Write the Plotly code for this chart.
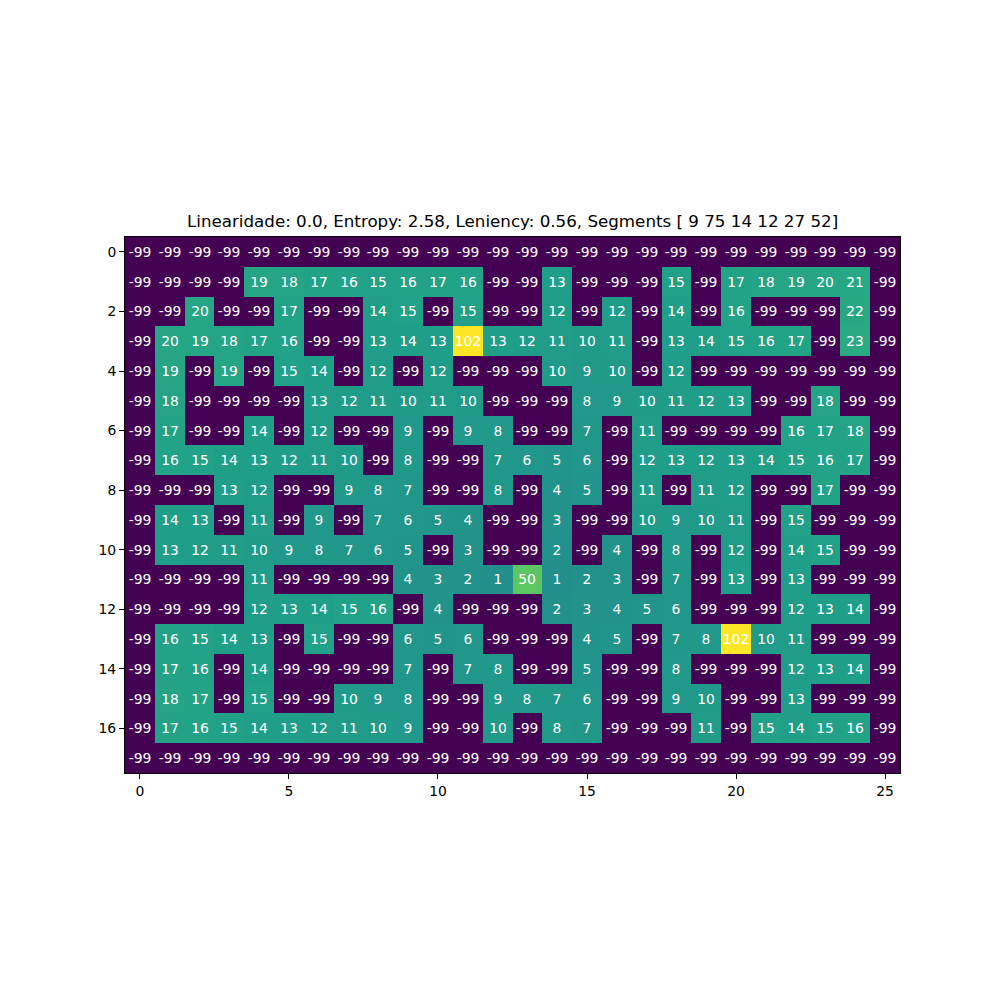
import plotly.graph_objects as go

title_text = "Linearidade: 0.0, Entropy: 2.58, Leniency: 0.56, Segments [ 9 75 14 12 27 52]"

row_00 = [-99] * 26
row_01 = [-99, -99, -99, -99, 19, 18, 17, 16, 15, 16, 17, 16, -99, -99, 13, -99, -99, -99, 15, -99, 17, 18, 19, 20, 21, -99]
row_02 = [-99, -99, 20, -99, -99, 17, -99, -99, 14, 15, -99, 15, -99, -99, 12, -99, 12, -99, 14, -99, 16, -99, -99, -99, 22, -99]
row_03 = [-99, 20, 19, 18, 17, 16, -99, -99, 13, 14, 13, 102, 13, 12, 11, 10, 11, -99, 13, 14, 15, 16, 17, -99, 23, -99]
row_04 = [-99, 19, -99, 19, -99, 15, 14, -99, 12, -99, 12, -99, -99, -99, 10, 9, 10, -99, 12, -99, -99, -99, -99, -99, -99, -99]
row_05 = [-99, 18, -99, -99, -99, -99, 13, 12, 11, 10, 11, 10, -99, -99, -99, 8, 9, 10, 11, 12, 13, -99, -99, 18, -99, -99]
row_06 = [-99, 17, -99, -99, 14, -99, 12, -99, -99, 9, -99, 9, 8, -99, -99, 7, -99, 11, -99, -99, -99, -99, 16, 17, 18, -99]
row_07 = [-99, 16, 15, 14, 13, 12, 11, 10, -99, 8, -99, -99, 7, 6, 5, 6, -99, 12, 13, 12, 13, 14, 15, 16, 17, -99]
row_08 = [-99, -99, -99, 13, 12, -99, -99, 9, 8, 7, -99, -99, 8, -99, 4, 5, -99, 11, -99, 11, 12, -99, -99, 17, -99, -99]
row_09 = [-99, 14, 13, -99, 11, -99, 9, -99, 7, 6, 5, 4, -99, -99, 3, -99, -99, 10, 9, 10, 11, -99, 15, -99, -99, -99]
row_10 = [-99, 13, 12, 11, 10, 9, 8, 7, 6, 5, -99, 3, -99, -99, 2, -99, 4, -99, 8, -99, 12, -99, 14, 15, -99, -99]
row_11 = [-99, -99, -99, -99, 11, -99, -99, -99, -99, 4, 3, 2, 1, 50, 1, 2, 3, -99, 7, -99, 13, -99, 13, -99, -99, -99]
row_12 = [-99, -99, -99, -99, 12, 13, 14, 15, 16, -99, 4, -99, -99, -99, 2, 3, 4, 5, 6, -99, -99, -99, 12, 13, 14, -99]
row_13 = [-99, 16, 15, 14, 13, -99, 15, -99, -99, 6, 5, 6, -99, -99, -99, 4, 5, -99, 7, 8, 102, 10, 11, -99, -99, -99]
row_14 = [-99, 17, 16, -99, 14, -99, -99, -99, -99, 7, -99, 7, 8, -99, -99, 5, -99, -99, 8, -99, -99, -99, 12, 13, 14, -99]
row_15 = [-99, 18, 17, -99, 15, -99, -99, 10, 9, 8, -99, -99, 9, 8, 7, 6, -99, -99, 9, 10, -99, -99, 13, -99, -99, -99]
row_16 = [-99, 17, 16, 15, 14, 13, 12, 11, 10, 9, -99, -99, 10, -99, 8, 7, -99, -99, -99, 11, -99, 15, 14, 15, 16, -99]
row_17 = [-99] * 26

grid = [row_00, row_01, row_02, row_03, row_04, row_05, row_06, row_07, row_08,
        row_09, row_10, row_11, row_12, row_13, row_14, row_15, row_16, row_17]

x_ticks = [0, 5, 10, 15, 20, 25]
y_ticks = [0, 2, 4, 6, 8, 10, 12, 14, 16]

# cell labels with ASCII hyphen-minus, as in the reference
cell_text = [[str(v) for v in row] for row in grid]

fig = go.Figure(go.Heatmap(
    z=grid,
    x=list(range(26)),
    y=list(range(18)),
    text=cell_text,
    colorscale="Viridis",
    zmin=-99, zmax=102,
    showscale=False,
    texttemplate="%{text}",
    textfont=dict(family="DejaVu Sans", size=13.9, color="white"),
    hoverinfo="skip",
))

axis_common = dict(ticks="outside", ticklen=5, tickcolor="black", showline=True,
                   linecolor="black", linewidth=1, mirror=True, showgrid=False,
                   zeroline=False,
                   tickfont=dict(family="DejaVu Sans", size=13.9, color="black"))
fig.update_xaxes(range=[-0.5, 25.5], tickvals=x_ticks, **axis_common)
fig.update_yaxes(range=[17.5, -0.5], tickvals=y_ticks, **axis_common)

fig.add_annotation(text=title_text, xref="paper", yref="paper", x=0.5, y=1,
                   xanchor="center", yanchor="bottom", yshift=4, showarrow=False,
                   font=dict(family="DejaVu Sans", size=16.7, color="black"))

fig.update_layout(width=1000, height=1000, margin=dict(l=125, r=100, t=237, b=227),
                  plot_bgcolor="white", paper_bgcolor="white",
                  font=dict(family="DejaVu Sans"))

fig.write_html("out.html")
